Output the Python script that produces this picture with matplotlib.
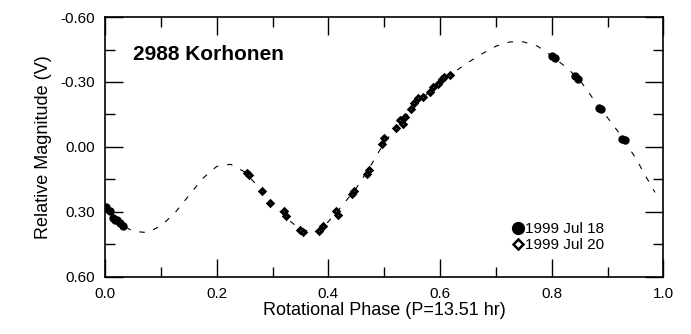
import matplotlib
matplotlib.use("Agg")
import matplotlib.pyplot as plt
from matplotlib.lines import Line2D
from matplotlib.ticker import MultipleLocator, FormatStrFormatter

plt.rcParams['font.family'] = ['Liberation Sans', 'DejaVu Sans']
plt.rcParams['axes.unicode_minus'] = False

# 1999 Jul 18 (filled circles)
jul18_phase = [0.002, 0.009, 0.014, 0.018, 0.022, 0.027, 0.032,
               0.800, 0.806, 0.842, 0.848, 0.884, 0.889, 0.926, 0.931]
jul18_mag = [0.276, 0.298, 0.328, 0.335, 0.337, 0.351, 0.363,
             -0.422, -0.412, -0.327, -0.313, -0.181, -0.176, -0.039, -0.033]

# 1999 Jul 20 (open diamonds)
jul20_phase = [0.254, 0.258, 0.282, 0.296, 0.321, 0.324, 0.349, 0.354,
               0.384, 0.391, 0.413, 0.417, 0.442, 0.446, 0.469, 0.473,
               0.496, 0.500, 0.521, 0.529, 0.534, 0.538, 0.548, 0.554,
               0.561, 0.570, 0.582, 0.587, 0.597, 0.603, 0.608, 0.617]
jul20_mag = [0.118, 0.128, 0.203, 0.257, 0.298, 0.318, 0.383, 0.394,
             0.386, 0.365, 0.294, 0.314, 0.217, 0.205, 0.126, 0.106,
             -0.012, -0.040, -0.086, -0.125, -0.106, -0.140, -0.174, -0.202,
             -0.225, -0.229, -0.255, -0.278, -0.291, -0.312, -0.325, -0.332]

# fitted lightcurve
fit_phase = [0.000, 0.025, 0.050, 0.075, 0.100, 0.125, 0.150, 0.175, 0.200,
             0.225, 0.250, 0.275, 0.300, 0.325, 0.350, 0.375, 0.400, 0.425,
             0.450, 0.475, 0.500, 0.525, 0.550, 0.575, 0.600, 0.625, 0.650,
             0.675, 0.700, 0.725, 0.750, 0.775, 0.800, 0.825, 0.850, 0.875,
             0.900, 0.925, 0.950, 0.975, 0.985]
fit_mag = [0.280, 0.350, 0.390, 0.395, 0.365, 0.305, 0.225, 0.145, 0.090,
           0.080, 0.115, 0.185, 0.260, 0.330, 0.380, 0.395, 0.345, 0.270,
           0.190, 0.090, -0.020, -0.100, -0.175, -0.240, -0.300, -0.345, -0.390,
           -0.430, -0.465, -0.485, -0.485, -0.465, -0.420, -0.370, -0.310, -0.220,
           -0.135, -0.050, 0.050, 0.165, 0.210]

fig = plt.figure(figsize=(6.91, 3.34), dpi=100)
ax = fig.add_axes([0.152, 0.171, 0.808, 0.778])

ax.plot(fit_phase, fit_mag, color='black', lw=0.8, dashes=(5, 8))
ax.plot(jul18_phase, jul18_mag, 'o', color='black', ms=5, ls='none')
ax.plot(jul20_phase, jul20_mag, 'D', mfc='white', mec='black', mew=2.2,
        ms=2.6, ls='none')

ax.set_xlim(0.0, 1.0)
ax.set_ylim(0.60, -0.60)
ax.xaxis.set_major_locator(MultipleLocator(0.2))
ax.xaxis.set_minor_locator(MultipleLocator(0.1))
ax.yaxis.set_major_locator(MultipleLocator(0.3))
ax.yaxis.set_minor_locator(MultipleLocator(0.15))
ax.xaxis.set_major_formatter(FormatStrFormatter('%.1f'))
ax.yaxis.set_major_formatter(FormatStrFormatter('%.2f'))
ax.tick_params(which='both', direction='in', top=True, right=True,
               width=1, labelsize=11, pad=7)
ax.tick_params(which='major', length=13)
ax.tick_params(which='minor', length=7)
for s in ax.spines.values():
    s.set_linewidth(1.2)

ax.set_xlabel('Rotational Phase (P=13.51 hr)', fontsize=13, labelpad=1)
ax.set_ylabel('Relative Magnitude (V)', fontsize=13, labelpad=6)
ax.text(0.05, 0.854, '2988 Korhonen', transform=ax.transAxes,
        fontsize=15, fontweight='bold', va='center', ha='left')

handles = [Line2D([], [], marker='o', color='black', ms=8.5, ls='none'),
           Line2D([], [], marker='D', mfc='white', mec='black', mew=1.8,
                  ms=5.5, ls='none')]
ax.legend(handles, ['1999 Jul 18', '1999 Jul 20'], loc='lower right',
          bbox_to_anchor=(0.907, 0.065), frameon=False, fontsize=11,
          handlelength=0.6, handletextpad=0.15, labelspacing=0.15,
          borderpad=0)

fig.savefig('out.png', dpi=100)
